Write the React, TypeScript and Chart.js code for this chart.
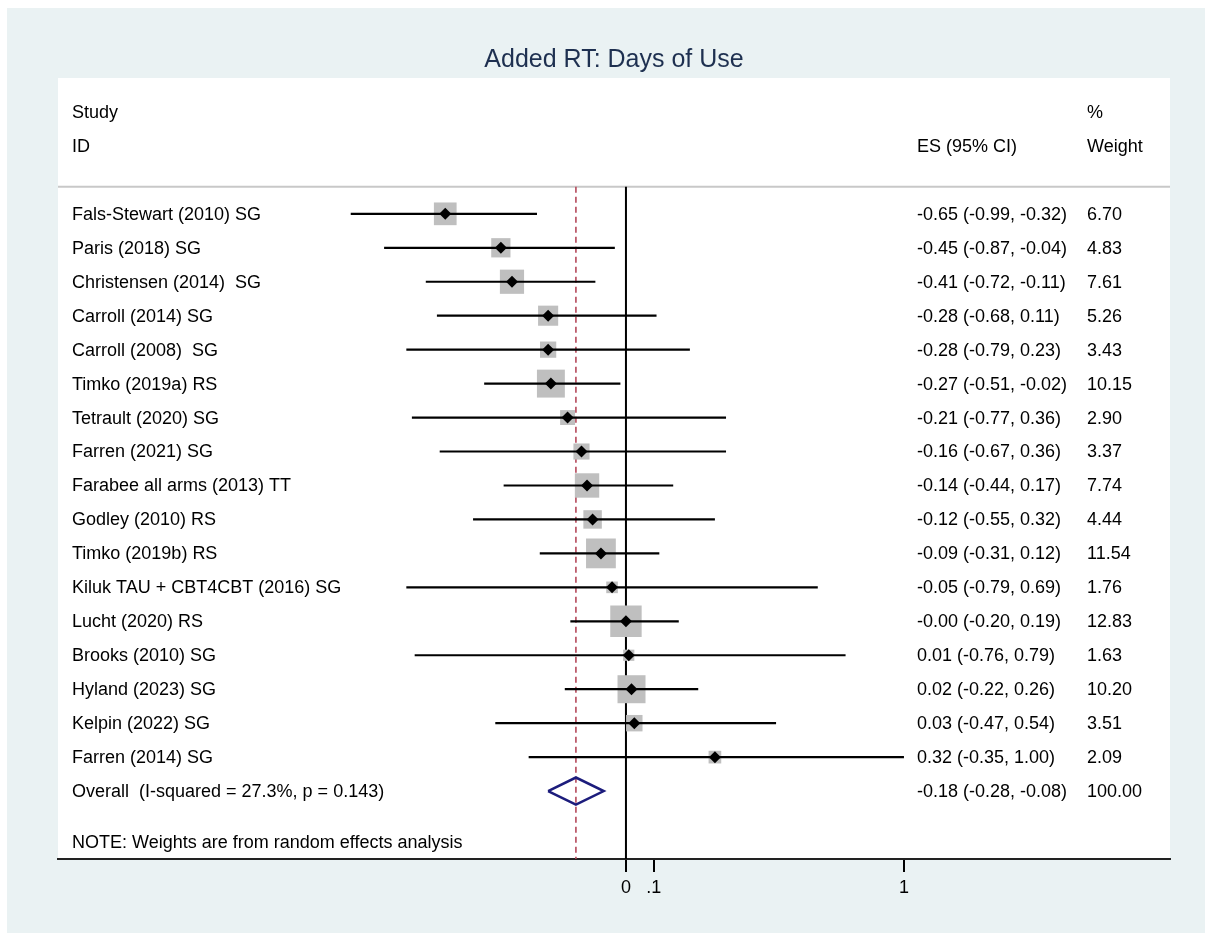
import React, { useEffect, useRef } from 'react';
import { Chart, registerables } from 'chart.js';

Chart.register(...registerables);

// ---------- Data ----------
const studies = [
  'Fals-Stewart (2010) SG',
  'Paris (2018) SG',
  'Christensen (2014)  SG',
  'Carroll (2014) SG',
  'Carroll (2008)  SG',
  'Timko (2019a) RS',
  'Tetrault (2020) SG',
  'Farren (2021) SG',
  'Farabee all arms (2013) TT',
  'Godley (2010) RS',
  'Timko (2019b) RS',
  'Kiluk TAU + CBT4CBT (2016) SG',
  'Lucht (2020) RS',
  'Brooks (2010) SG',
  'Hyland (2023) SG',
  'Kelpin (2022) SG',
  'Farren (2014) SG',
];
const effects = [-0.65, -0.45, -0.41, -0.28, -0.28, -0.27, -0.21, -0.16, -0.14, -0.12, -0.09, -0.05, -0.0, 0.01, 0.02, 0.03, 0.32];
const lowerCI = [-0.99, -0.87, -0.72, -0.68, -0.79, -0.51, -0.77, -0.67, -0.44, -0.55, -0.31, -0.79, -0.2, -0.76, -0.22, -0.47, -0.35];
const upperCI = [-0.32, -0.04, -0.11, 0.11, 0.23, -0.02, 0.36, 0.36, 0.17, 0.32, 0.12, 0.69, 0.19, 0.79, 0.26, 0.54, 1.0];
const weights = [6.7, 4.83, 7.61, 5.26, 3.43, 10.15, 2.9, 3.37, 7.74, 4.44, 11.54, 1.76, 12.83, 1.63, 10.2, 3.51, 2.09];
const esLabels = [
  '-0.65 (-0.99, -0.32)',
  '-0.45 (-0.87, -0.04)',
  '-0.41 (-0.72, -0.11)',
  '-0.28 (-0.68, 0.11)',
  '-0.28 (-0.79, 0.23)',
  '-0.27 (-0.51, -0.02)',
  '-0.21 (-0.77, 0.36)',
  '-0.16 (-0.67, 0.36)',
  '-0.14 (-0.44, 0.17)',
  '-0.12 (-0.55, 0.32)',
  '-0.09 (-0.31, 0.12)',
  '-0.05 (-0.79, 0.69)',
  '-0.00 (-0.20, 0.19)',
  '0.01 (-0.76, 0.79)',
  '0.02 (-0.22, 0.26)',
  '0.03 (-0.47, 0.54)',
  '0.32 (-0.35, 1.00)',
];
const overallLabel = 'Overall  (I-squared = 27.3%, p = 0.143)';
const overallES = -0.18;
const overallLo = -0.28;
const overallHi = -0.08;
const overallText = '-0.18 (-0.28, -0.08)';
const overallWeight = '100.00';
const noteText = 'NOTE: Weights are from random effects analysis';
const titleText = 'Added RT: Days of Use';
const xTicks = [0, 0.1, 1];
const xTickLabels = ['0', '.1', '1'];

// ---------- Styling ----------
const FONT = "'Liberation Sans', Arial, sans-serif";
const TEXT_SIZE = 18;
const OVERALL_ROW = studies.length + 1;
const NOTE_ROW = studies.length + 2.5;

const forestPlugin = {
  id: 'forestText',
  beforeDraw(chart: any) {
    const { ctx, chartArea, width, height } = chart;
    const { left, right, top, bottom } = chartArea;
    ctx.save();
    ctx.fillStyle = '#ffffff';
    ctx.fillRect(0, 0, width, height);
    ctx.fillStyle = '#eaf2f3';
    ctx.fillRect(7, 8, width - 7, height - 8);
    ctx.fillStyle = '#ffffff';
    ctx.fillRect(left, top, right - left, bottom - top);
    const hy = chart.scales.y.getPixelForValue(0.2);
    ctx.strokeStyle = '#c8c8c8';
    ctx.lineWidth = 2;
    ctx.beginPath();
    ctx.moveTo(left, hy);
    ctx.lineTo(right, hy);
    ctx.stroke();
    ctx.restore();
  },
  afterDraw(chart: any) {
    const { ctx, chartArea } = chart;
    const y = chart.scales.y;
    const labelX = chartArea.left + 14;
    const esX = 917;
    const wX = 1087;
    ctx.save();
    // title
    ctx.fillStyle = '#1e3050';
    ctx.font = `25px ${FONT}`;
    ctx.textAlign = 'center';
    ctx.textBaseline = 'middle';
    ctx.fillText(titleText, (chartArea.left + chartArea.right) / 2, 60);

    ctx.fillStyle = '#000000';
    ctx.font = `${TEXT_SIZE}px ${FONT}`;
    ctx.textAlign = 'left';
    ctx.textBaseline = 'middle';
    const off = 1;
    ctx.fillText('Study', labelX, y.getPixelForValue(-2) + off);
    ctx.fillText('ID', labelX, y.getPixelForValue(-1) + off);
    ctx.fillText('%', wX, y.getPixelForValue(-2) + off);
    ctx.fillText('ES (95% CI)', esX, y.getPixelForValue(-1) + off);
    ctx.fillText('Weight', wX, y.getPixelForValue(-1) + off);

    studies.forEach((s, i) => {
      const py = y.getPixelForValue(i + 1) + off;
      ctx.fillText(s, labelX, py);
      ctx.fillText(esLabels[i], esX, py);
      ctx.fillText(weights[i].toFixed(2), wX, py);
    });
    const oy = y.getPixelForValue(OVERALL_ROW) + off;
    ctx.fillText(overallLabel, labelX, oy);
    ctx.fillText(overallText, esX, oy);
    ctx.fillText(overallWeight, wX, oy);
    ctx.fillText(noteText, labelX, y.getPixelForValue(NOTE_ROW) + off);
    ctx.restore();
  },
};

export default function App() {
  const canvasRef = useRef<HTMLCanvasElement | null>(null);

  useEffect(() => {
    if (!canvasRef.current) return;

    const ciDatasets = studies.map((s, i) => ({
      type: 'line' as const,
      label: s,
      data: [
        { x: lowerCI[i], y: i + 1 },
        { x: upperCI[i], y: i + 1 },
      ],
      showLine: true,
      borderColor: '#000000',
      borderWidth: 2.2,
      pointRadius: 0,
      order: 2,
    }));

    const chart = new Chart(canvasRef.current, {
      type: 'scatter',
      data: {
        datasets: [
          {
            type: 'line',
            label: 'zero',
            data: [
              { x: 0, y: 0.2 },
              { x: 0, y: 20 },
            ],
            showLine: true,
            borderColor: '#000000',
            borderWidth: 2,
            pointRadius: 0,
            order: 6,
          },
          {
            type: 'line',
            label: 'overall line',
            data: [
              { x: overallES, y: 0.2 },
              { x: overallES, y: 20 },
            ],
            showLine: true,
            borderColor: '#b4485a',
            borderWidth: 1.6,
            borderDash: [6, 4],
            pointRadius: 0,
            order: 5,
          },
          {
            label: 'weights',
            data: effects.map((e, i) => ({ x: e, y: i + 1 })),
            pointStyle: 'rect',
            pointRadius: weights.map((w) => 6.2 * Math.sqrt(w)),
            backgroundColor: '#bfbfbf',
            borderWidth: 0,
            order: 3,
          },
          ...ciDatasets,
          {
            label: 'estimates',
            data: effects.map((e, i) => ({ x: e, y: i + 1 })),
            pointStyle: 'rectRot',
            pointRadius: 6,
            backgroundColor: '#000000',
            borderColor: '#000000',
            borderWidth: 0,
            order: 1,
          },
          {
            type: 'line',
            label: 'overall',
            data: [
              { x: overallLo, y: OVERALL_ROW },
              { x: overallES, y: OVERALL_ROW - 0.4 },
              { x: overallHi, y: OVERALL_ROW },
              { x: overallES, y: OVERALL_ROW + 0.4 },
              { x: overallLo, y: OVERALL_ROW },
            ],
            showLine: true,
            borderColor: '#1c1c7c',
            borderWidth: 2.5,
            borderJoinStyle: 'miter',
            pointRadius: 0,
            tension: 0,
            order: 1,
          },
        ] as any,
      },
      options: {
        animation: false,
        responsive: false,
        devicePixelRatio: 1,
        events: [],
        layout: { padding: { left: 58, right: 35, top: 78, bottom: 0 } },
        plugins: {
          legend: { display: false },
          tooltip: { enabled: false },
          title: { display: false },
        },
        scales: {
          x: {
            type: 'linear',
            min: -2.043,
            max: 1.957,
            afterBuildTicks: (scale: any) => {
              scale.ticks = xTicks.map((v) => ({ value: v }));
            },
            afterFit: (scale: any) => {
              scale.height = 74;
            },
            ticks: {
              autoSkip: false,
              maxRotation: 0,
              padding: 5,
              color: '#000000',
              font: { family: FONT, size: TEXT_SIZE },
              callback: (_v: any, i: number) => xTickLabels[i],
            },
            grid: {
              display: true,
              drawOnChartArea: false,
              drawTicks: true,
              tickLength: 13,
              color: '#000000',
              lineWidth: 2,
            },
            border: { display: true, color: '#222222', width: 2 },
          },
          y: {
            type: 'linear',
            min: -3,
            max: 20,
            reverse: true,
            display: false,
          },
        },
      } as any,
      plugins: [forestPlugin],
    });

    return () => chart.destroy();
  }, []);

  return (
    <div style={{ position: 'fixed', left: 0, top: 0, width: 1205, height: 933 }}>
      <canvas ref={canvasRef} width={1205} height={933} style={{ display: 'block' }} />
    </div>
  );
}
